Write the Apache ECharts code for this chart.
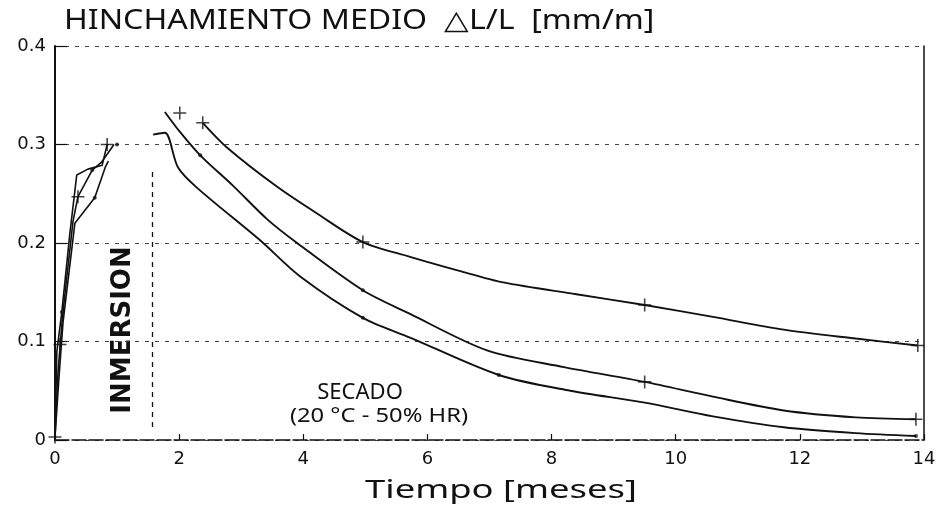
<!DOCTYPE html>
<html>
<head>
<meta charset="utf-8">
<script src="https://cdn.jsdelivr.net/npm/echarts@6/dist/echarts.min.js"></script>
<style>
html, body { margin: 0; background: #fff; }
#chart { width: 939px; height: 508px; }
</style>
</head>
<body>
<div id="chart"></div>
<script>
// tick labels
var xTicks = [0, 2, 4, 6, 8, 10, 12, 14];
var yTicks = [0, 0.1, 0.2, 0.3, 0.4];

// immersion phase, [months, mm/m]
var inmersion1 = [[0, 0.003], [0.03, 0.09], [0.11, 0.13], [0.24, 0.21], [0.35, 0.269], [0.53, 0.275], [0.76, 0.279], [0.84, 0.3]];
var inmersion2 = [[0, 0.003], [0.05, 0.07], [0.12, 0.125], [0.29, 0.222], [0.37, 0.247], [0.6, 0.274], [0.75, 0.282], [0.95, 0.3]];
var inmersion3 = [[0, 0.003], [0.06, 0.06], [0.13, 0.12], [0.32, 0.22], [0.64, 0.246], [0.81, 0.277], [0.86, 0.283]];

// drying phase
var secado1 = [[2.38, 0.322], [2.77, 0.297], [3.58, 0.257], [4.22, 0.23], [4.96, 0.201], [5.72, 0.186], [6.5, 0.172], [7.22, 0.16], [8.4, 0.148], [9.5, 0.137], [10.6, 0.125], [11.74, 0.112], [12.9, 0.103], [13.9, 0.096]];
var secado2 = [[1.77, 0.333], [2.01, 0.313], [2.34, 0.289], [2.87, 0.258], [3.42, 0.224], [3.9, 0.2], [4.96, 0.152], [5.72, 0.128], [6.96, 0.091], [8.2, 0.074], [9.5, 0.059], [10.6, 0.044], [11.74, 0.030], [12.9, 0.023], [13.87, 0.021]];
var secado3 = [[1.58, 0.31], [1.77, 0.312], [1.98, 0.277], [2.29, 0.256], [3.3, 0.203], [3.95, 0.166], [4.96, 0.124], [5.72, 0.104], [7.15, 0.066], [8.3, 0.05], [9.5, 0.038], [10.6, 0.024], [11.74, 0.013], [12.9, 0.007], [13.87, 0.004]];

// measured points marked on the curves
var crossPts = [[0, 0.003], [0.08, 0.097], [0.37, 0.247], [0.84, 0.3], [2.01, 0.332], [2.38, 0.322], [4.96, 0.201], [9.5, 0.137], [13.9, 0.096], [9.5, 0.059], [13.87, 0.021]];
var dotPts = [[0.11, 0.13], [0.6, 0.274], [0.64, 0.246], [1.0, 0.30], [2.34, 0.289], [4.96, 0.152], [4.96, 0.124], [7.15, 0.066], [13.87, 0.004]];

var finInmersion = 1.56;

var plus = 'path://M4.4,0h1.2v4.4h4.4v1.2h-4.4v4.4h-1.2v-4.4h-4.4v-1.2h4.4z';

function curve(d, w, s) {
    return {
        type: 'line',
        data: d,
        symbol: 'none',
        smooth: s,
        lineStyle: { color: '#111', width: w },
        silent: true,
        z: 3
    };
}

var myChart = echarts.init(document.getElementById('chart'));
var series = [
    curve(inmersion1, 1.6, false),
    curve(inmersion2, 1.6, false),
    curve(inmersion3, 1.6, false),
    curve(secado1, 1.9, 0.3),
    curve(secado2, 1.9, 0.3),
    curve(secado3, 1.9, 0.3),
    {
        type: 'scatter',
        data: crossPts,
        symbol: plus,
        symbolSize: 13,
        itemStyle: { color: '#111' },
        z: 4
    },
    {
        type: 'scatter',
        data: dotPts,
        symbol: 'circle',
        symbolSize: 4,
        itemStyle: { color: '#111' },
        z: 4
    }
];
// dashed line closing the immersion period
series[0].markLine = {
    symbol: 'none',
    silent: true,
    label: { show: false },
    lineStyle: { color: '#111', type: [5, 5], width: 1.3 },
    data: [[{ coord: [finInmersion, 0.272] }, { coord: [finInmersion, 0.012] }]]
};

var option = {
    backgroundColor: '#fff',
    animation: false,
    grid: { left: 55, right: 15, top: 46, bottom: 68 },
    xAxis: {
        type: 'value',
        min: xTicks[0],
        max: xTicks[xTicks.length - 1],
        interval: 2,
        axisLine: { lineStyle: { color: '#111', width: 1.5, type: [14, 3] } },
        axisTick: { inside: true, length: 6, lineStyle: { color: '#111', width: 1.2 } },
        axisLabel: { color: '#111', fontSize: 18, fontFamily: 'DejaVu Sans', margin: 10 },
        splitLine: { show: false }
    },
    yAxis: [{
        type: 'value',
        min: yTicks[0],
        max: yTicks[yTicks.length - 1],
        interval: 0.1,
        axisLine: { show: true, lineStyle: { color: '#111', width: 2 } },
        axisTick: { show: true, inside: true, length: 12, lineStyle: { color: '#111', width: 1.2 } },
        axisLabel: {
            color: '#111', fontSize: 18, fontFamily: 'DejaVu Sans', margin: 9,
            formatter: function (v) { return v === 0 ? '0' : v.toFixed(1); }
        },
        splitLine: { show: true, lineStyle: { color: '#444', width: 1.2, type: [4, 6] } }
    }, {
        type: 'value',
        position: 'right',
        min: 0,
        max: 0.4,
        axisLine: { show: true, lineStyle: { color: '#111', width: 1.5 } },
        axisTick: { show: false },
        axisLabel: { show: false },
        splitLine: { show: false }
    }],
    graphic: [
        {
            type: 'text', x: 64, y: 21, scaleX: 1.19,
            style: { text: 'HINCHAMIENTO MEDIO  \u25B3L/L  [mm/m]', font: '27px "Noto Sans"', fill: '#111', textVerticalAlign: 'middle' }
        },
        {
            type: 'text', x: 501, y: 491, scaleX: 1.4,
            style: { text: 'Tiempo [meses]', font: '26px "Noto Sans"', fill: '#111', textAlign: 'center', textVerticalAlign: 'middle' }
        },
        {
            type: 'text', x: 123, y: 330, rotation: Math.PI / 2,
            style: { text: 'INMERSION', font: 'bold 26px "DejaVu Sans"', fill: '#111', textAlign: 'center', textVerticalAlign: 'middle' }
        },
        {
            type: 'text', x: 360, y: 393, scaleX: 1.05,
            style: { text: 'SECADO', font: '21px "Noto Sans"', fill: '#111', textAlign: 'center', textVerticalAlign: 'middle' }
        },
        {
            type: 'text', x: 379, y: 417, scaleX: 1.25,
            style: { text: '(20 \u00B0C - 50% HR)', font: '19px "Noto Sans"', fill: '#111', textAlign: 'center', textVerticalAlign: 'middle' }
        }
    ],
    series: series
};
myChart.setOption(option);
</script>
</body>
</html>
